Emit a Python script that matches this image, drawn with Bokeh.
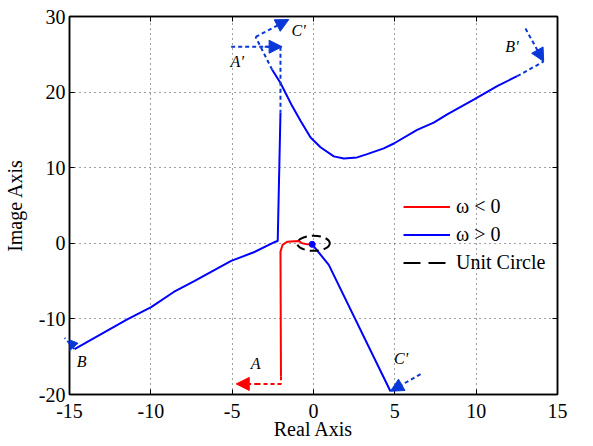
import math
from bokeh.plotting import figure
from bokeh.models import (Arrow, NormalHead, Label, Legend, LegendItem, LinearAxis,
                          FixedTicker, Range1d, CustomLabelingPolicy)
from bokeh.embed import file_html
from bokeh.resources import INLINE

# ---- data ----
x_ticks = [-15, -10, -5, 0, 5, 10, 15]
x_tick_labels = ["-15", "-10", "-5", "0", "5", "10", "15"]
y_ticks = [-20, -10, 0, 10, 20, 30]
y_tick_labels = ["-20", "-10", "0", "10", "20", "30"]

# omega > 0, lower-left branch (from B up to the jump)
blue_low_x = [-14.69, -11.45, -9.98, -8.59, -7.36, -5.06, -3.67, -2.34, -2.2, -2.03]
blue_low_y = [-14.0, -10.07, -8.45, -6.44, -5.04, -2.33, -1.19, 0.21, 0.3, 17.3]

# omega > 0, upper branch (towards B')
blue_up_x = [-2.54, -2.03, -1.31, -0.8, -0.18, 0.43, 1.25, 1.86, 2.68, 3.3, 4.32, 4.94,
             6.37, 7.39, 8.22, 9.85, 11.29, 12.52]
blue_up_y = [22.95, 21.2, 18.15, 16.2, 14.0, 12.7, 11.5, 11.23, 11.36, 11.8, 12.55, 13.2,
             15.0, 15.96, 17.05, 19.0, 20.8, 22.1]

# omega > 0, branch from origin to C'
blue_mid_x = [-0.08, 0.94, 4.73]
blue_mid_y = [-0.14, -2.85, -19.57]

# omega < 0
red_x = [-0.1, -0.35, -0.7, -0.9, -1.62, -1.9, -2.03, -2.0]
red_y = [-0.12, -0.14, 0.0, 0.3, 0.21, -0.2, -1.1, -17.6]

# dashed connecting paths
red_dash_x = [-2.0, -2.0, -3.6]
red_dash_y = [-17.6, -18.6, -18.6]
a1_dash_x = [-5.06, -2.6]
a1_dash_y = [26.0, 26.0]
a1_vert_x = [-2.03, -2.03]
a1_vert_y = [26.0, 17.3]
c1_dash_x = [-2.54, -3.56]
c1_dash_y = [22.95, 27.3]
b1_dash_x = [12.52, 14.15]
b1_dash_y = [22.1, 24.05]

# arrows: (x_start, y_start, x_end, y_end)
red_arrow = (-3.4, -18.6, -4.75, -18.6)
blue_arrows = [
    (-14.69, -14.0, -15.3, -12.5),   # B
    (6.58, -17.3, 4.73, -19.57),     # C' bottom
    (-3.0, 26.0, -1.93, 26.0),       # A'
    (-3.56, 27.3, -1.52, 29.6),      # C' top
    (13.03, 28.4, 14.15, 24.05),     # B'
]

# point labels
lab_text = ["A", "B", "C'", "A'", "C'", "B'"]
lab_x = [-3.56, -14.26, 5.38, -4.69, -0.92, 12.2]
lab_y = [-15.9, -15.7, -15.3, 24.1, 28.2, 26.0]

x_title = "Real Axis"
y_title = "Image Axis"
legend_labels = ["ω < 0", "ω > 0", "Unit Circle"]

# ---- styling ----
FONT = "Liberation Serif"
BLUE = "#0000ff"
BLUE_D = "#0a38d8"
RED = "#ff0000"

p = figure(width=593, height=446, x_range=Range1d(-15, 15), y_range=Range1d(-20, 30),
           output_backend="svg", toolbar_location=None,
           min_border_left=69, min_border_right=36, min_border_top=13, min_border_bottom=52)
p.background_fill_color = "white"
p.border_fill_color = "white"
p.outline_line_color = "black"
p.outline_line_width = 1.5

for ax, ticks, labs in ((p.xaxis[0], x_ticks, x_tick_labels),
                        (p.yaxis[0], y_ticks, y_tick_labels)):
    ax.ticker = FixedTicker(ticks=ticks)
    ax.major_label_overrides = {t: s for t, s in zip(ticks, labs)}
    ax.major_tick_in = 5
    ax.major_tick_out = 0
    ax.minor_tick_in = 0
    ax.minor_tick_out = 0
    ax.axis_line_color = "black"
    ax.axis_line_width = 1.5
    ax.major_tick_line_color = "black"
    ax.major_label_text_font = FONT
    ax.major_label_text_font_size = "20px"
    ax.major_label_text_color = "black"
    ax.axis_label_text_font = FONT
    ax.axis_label_text_font_size = "20px"
    ax.axis_label_text_font_style = "normal"
    ax.axis_label_text_color = "black"

p.xaxis[0].axis_label = x_title
p.xaxis[0].major_label_standoff = 9
p.xaxis[0].axis_label_standoff = -3
p.yaxis[0].axis_label = y_title
p.yaxis[0].major_label_standoff = 4
p.yaxis[0].axis_label_standoff = 10

no_labels = CustomLabelingPolicy(code="for (const i of indices) indices.unset(i)")
for side, ticks in (("above", x_ticks), ("right", y_ticks)):
    ax = LinearAxis(ticker=FixedTicker(ticks=ticks), major_tick_in=5, major_tick_out=0,
                    minor_tick_in=0, minor_tick_out=0, major_label_policy=no_labels,
                    axis_line_color="black", axis_line_width=1.5)
    p.add_layout(ax, side)

p.xgrid.ticker = FixedTicker(ticks=x_ticks)
p.ygrid.ticker = FixedTicker(ticks=y_ticks)
for g in (p.xgrid[0], p.ygrid[0]):
    g.grid_line_color = "black"
    g.grid_line_dash = "1 4"
    g.grid_line_alpha = 0.75
    g.grid_line_width = 1

# ---- curves ----
r_red = p.line(red_x, red_y, line_color=RED, line_width=2)
r_blue = p.line(blue_low_x, blue_low_y, line_color=BLUE, line_width=2)
p.line(blue_up_x, blue_up_y, line_color=BLUE, line_width=2)
p.line(blue_mid_x, blue_mid_y, line_color=BLUE, line_width=2)
p.scatter([blue_mid_x[0]], [blue_mid_y[0]], size=6, color=BLUE)

p.ellipse(x=0, y=0, width=2, height=2, fill_color=None, line_color="black",
          line_width=2, line_dash="9 5")
r_circ = p.line([math.nan], [math.nan], line_color="black", line_width=2, line_dash="17 8")

p.line(red_dash_x, red_dash_y, line_color=RED, line_width=2, line_dash="4 3")
for xs, ys in ((a1_dash_x, a1_dash_y), (a1_vert_x, a1_vert_y),
               (c1_dash_x, c1_dash_y), (b1_dash_x, b1_dash_y)):
    p.line(xs, ys, line_color=BLUE_D, line_width=2, line_dash="4 3")

def add_arrow(a, color):
    head = NormalHead(size=13, fill_color=color, line_color=color, line_width=1)
    p.add_layout(Arrow(end=head, x_start=a[0], y_start=a[1], x_end=a[2], y_end=a[3],
                       line_color=color, line_width=2, line_dash="4 3"))

add_arrow(red_arrow, RED)
for a in blue_arrows:
    add_arrow(a, BLUE_D)

for t, x, y in zip(lab_text, lab_x, lab_y):
    p.add_layout(Label(x=x, y=y, text=t, text_font=FONT, text_font_style="italic",
                       text_font_size="16px", text_align="center", text_baseline="middle",
                       text_color="black"))

legend = Legend(items=[LegendItem(label=legend_labels[0], renderers=[r_red]),
                       LegendItem(label=legend_labels[1], renderers=[r_blue]),
                       LegendItem(label=legend_labels[2], renderers=[r_circ])],
                location=(334, 120))
legend.border_line_color = None
legend.background_fill_alpha = 0
legend.padding = 0
legend.margin = 0
legend.spacing = 5
legend.glyph_width = 47
legend.glyph_height = 23
legend.label_height = 23
legend.label_standoff = 6
legend.label_text_font = FONT
legend.label_text_font_size = "20px"
legend.label_text_color = "black"
p.add_layout(legend)

open("out.html", "w").write(file_html(p, INLINE))
